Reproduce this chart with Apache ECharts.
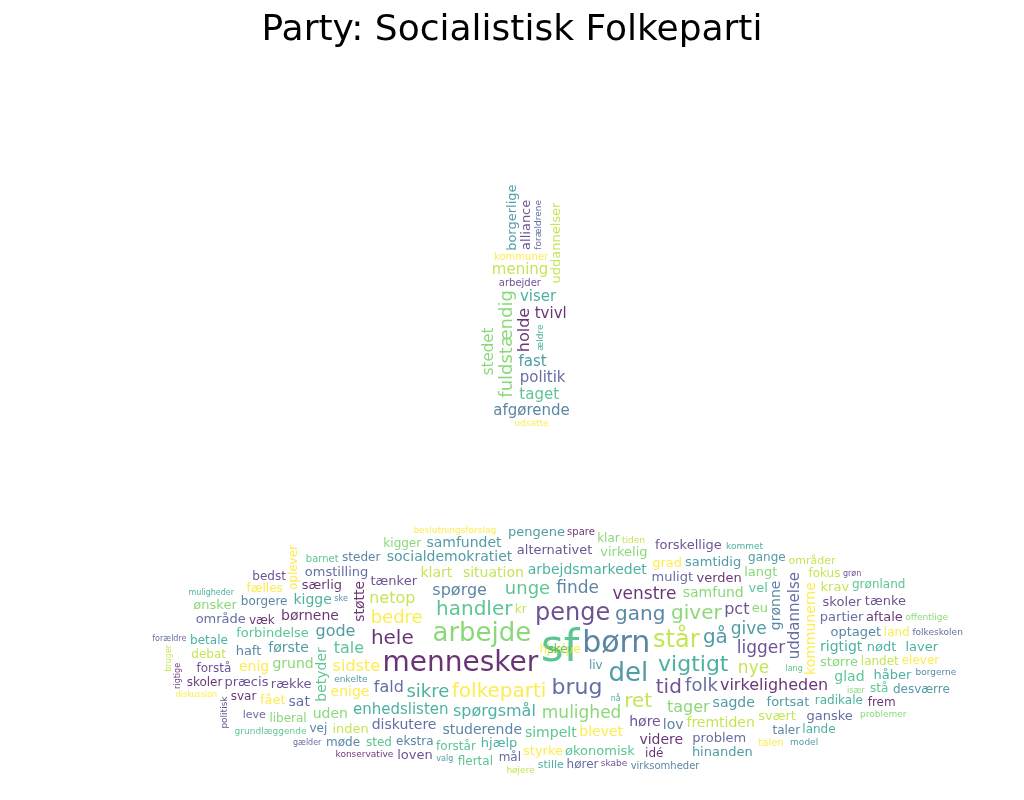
<!DOCTYPE html>
<html><head><meta charset="utf-8">
<script src="https://cdn.jsdelivr.net/npm/echarts@6/dist/echarts.min.js"></script>
<style>html,body{margin:0;background:#fff}#c{width:1024px;height:800px}</style>
</head><body><div id="c"></div>
<script>
const titleText = "Party: Socialistisk Folkeparti";
const palette = ["#440154","#482878","#3e4989","#31688e","#26828e","#1f9e89","#35b779","#6ece58","#b5de2b","#fde725"];

// words in the narrow tower
const towerWords = ["holde","fuldstændig","fast","arbejder","mening","viser","politik","kommuner","taget","afgørende","tvivl","stedet","borgerlige","alliance","uddannelser","ældre","forældrene","udsatte"];
const towerSizes = [16,18,15,10,15,15,15,10,15,15,15,15,13,13,13,9,9,9];
const towerRot   = [1,1,0,0,0,0,0,0,0,0,0,1,1,1,1,1,1,0];

// words in the wide base
const baseWords = ["sf","børn","mennesker","arbejde","del","penge","står","vigtigt","brug","folkeparti","handler","gang","hele","giver","gå","tid","ret","sikre","folk","bedre","unge","finde","venstre","mulighed","give","ligger","nye","spørgsmål","fald","sidste","tale","spørge","virkeligheden","tager","gode","pct","netop","enhedslisten","uddannelse","kommunerne","betyder","grønne","støtte","samfund","sagde","høre","situation","arbejdsmarkedet","muligt","blevet","simpelt","studerende","børnene","grund","første","tænker","fremtiden","rigtigt","diskutere","enige","forbindelse","lov","verden","større","fortsat","række","klart","kigge","partier","grad","glad","optaget","videre","uden","socialdemokratiet","alternativet","svært","hjælp","sat","enig","økonomisk","haft","særlig","virkelig","samtidig","skoler","landet","radikale","problem","styrke","forstår","ekstra","væk","langt","liv","præcis","inden","nødt","omstilling","fået","vel","borgere","aftale","eu","samfundet","forskellige","krav","håber","ganske","land","stå","taler","idé","liberal","hinanden","forstå","debat","betale","område","fælles","sted","steder","svar","klar","gange","tænke","fokus","laver","mål","elever","flertal","vej","frem","ønsker","pengene","loven","kr","lande","hører","oplever","grønland","møde","skoler","kigger","desværre","bedst","områder","stille","leve","talen","barnet","virksomheder","spare","offentlige","enkelte","politisk","tiden","kommet","folkeskolen","beslutningsforslag","grundlæggende","borgerne","konservative","problemer","model","skabe","højere","muligheder","gælder","diskussion","lang","ske","rigtige","især","valg","grøn","bruger","nå","forældre","hjælpe","sker"];
const baseSizes = [44,30,28,26,26,24,24,22,22,20,20,20,20,20,20,20,20,18,18,18,18,17,17,17,17,17,17,16,16,16,16,16,16,16,16,16,16,15,15,14,14,14,14,14,14,14,14,14,13,14,14,14,14,14,14,13,14,14,14,14,13,14,13,13,13,13,14,14,13,13,14,13,14,14,14,13,13,13,14,14,13,13,13,13,13,13,12,12,13,13,12,12,12,13,12,13,13,13,13,13,13,12,13,13,14,13,13,13,13,12,12,12,12,12,13,12,12,12,13,12,12,12,12,12,12,13,12,13,12,12,12,12,12,13,13,13,12,12,12,12,12,12,12,12,12,12,11,11,11,10,10,10,10,9,9,9,9,9,9,9,9,9,9,9,9,9,9,8,8,8,8,8,8,8,8,8,8,8,8];
const baseRotWords = ["uddannelse","kommunerne","betyder","grønne","støtte","oplever","politisk","rigtige","bruger"];

const font = '"DejaVu Sans"';
const ctx = document.createElement("canvas").getContext("2d");
const placed = [];
function hit(r){ return placed.some(p => r.x0 < p.x1 && r.x1 > p.x0 && r.y0 < p.y1 && r.y1 > p.y0); }
function place(word, size, rot, cx, cy, box, ratio){
  ctx.font = size + "px " + font;
  const w = ctx.measureText(word).width + 2, h = size * 1.05;
  const bw = rot ? h : w, bh = rot ? w : h;
  for (let t = 0; t < 600; t += Math.min(0.2, 2 / (t + 1))){
    const x = cx + t * Math.cos(t) * ratio, y = cy + t * Math.sin(t);
    const r = {x0: x - bw/2, x1: x + bw/2, y0: y - bh/2, y1: y + bh/2};
    if (r.x0 < box[0] || r.x1 > box[2] || r.y0 < box[1] || r.y1 > box[3]) continue;
    if (!hit(r)) { placed.push(r); return [x, y]; }
  }
  return null;
}
const items = [];
let ci = 0;
towerWords.forEach((w, i) => {
  const p = place(w, towerSizes[i], towerRot[i], 525, 330, [478, 150, 575, 505], 0.35);
  if (p) items.push({w, s: towerSizes[i], r: towerRot[i], p, c: palette[(ci++ * 7) % 10]});
});
baseWords.forEach((w, i) => {
  const rot = baseRotWords.includes(w) ? 1 : 0;
  const p = place(w, baseSizes[i], rot, 560, 650, [18, 492, 1022, 800], 3.2);
  if (p) items.push({w, s: baseSizes[i], r: rot, p, c: palette[(ci++ * 7) % 10]});
});

const chart = echarts.init(document.getElementById("c"));
chart.setOption({
  backgroundColor: "#fff",
  title: {text: titleText, left: "center", top: 8, textStyle: {fontFamily: font, fontSize: 36, fontWeight: "normal", color: "#000"}},
  grid: {left: 0, right: 0, top: 0, bottom: 0},
  xAxis: {type: "value", min: 0, max: 1024, show: false},
  yAxis: {type: "value", min: 0, max: 800, inverse: true, show: false},
  series: [{
    type: "scatter", symbolSize: 1, itemStyle: {color: "rgba(0,0,0,0)"}, animation: false,
    data: items.map(d => ({
      value: d.p,
      label: {show: true, position: "inside", formatter: d.w, rotate: d.r ? 90 : 0,
        fontFamily: font, fontSize: d.s, color: d.c, align: "center", verticalAlign: "middle"}
    }))
  }]
});
</script></body></html>
